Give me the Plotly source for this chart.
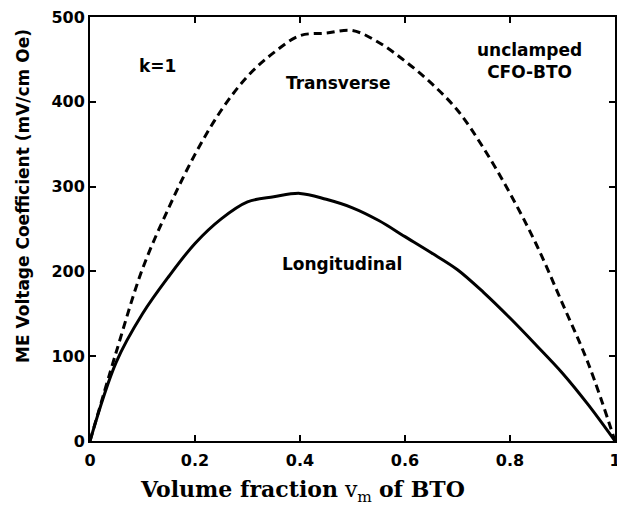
import plotly.graph_objects as go

# volume fraction of BTO
vm = [0, 0.05, 0.1, 0.15, 0.2, 0.25, 0.3, 0.35, 0.4, 0.45, 0.5,
      0.55, 0.6, 0.65, 0.7, 0.75, 0.8, 0.85, 0.9, 0.95, 1.0]
# ME voltage coefficient (mV/cm Oe)
transverse = [0, 105, 203, 275, 338, 390, 430, 458, 478, 481, 484,
              470, 448, 422, 390, 345, 292, 232, 162, 90, 0]
longitudinal = [0, 93, 150, 194, 233, 262, 282, 288, 292, 285, 275,
                260, 241, 222, 202, 175, 145, 113, 80, 42, 0]

fig = go.Figure()
fig.add_trace(go.Scatter(x=vm, y=transverse, mode='lines', name='Transverse',
                         line=dict(color='black', width=3, dash='8px,5px', shape='spline')))
fig.add_trace(go.Scatter(x=vm, y=longitudinal, mode='lines', name='Longitudinal',
                         line=dict(color='black', width=3, shape='spline')))

lab_font = dict(family='DejaVu Sans', size=17, color='black')
notes = [
    (0.128, 442, '<b>k=1</b>'),
    (0.472, 422, '<b>Transverse</b>'),
    (0.838, 448, '<b>unclamped<br>CFO-BTO</b>'),
    (0.48, 209, '<b>Longitudinal</b>'),
]
for x, y, t in notes:
    fig.add_annotation(x=x, y=y, text=t, showarrow=False, font=lab_font)

# axis titles as annotations (they sit off-centre in the original)
fig.add_annotation(xref='paper', yref='y', x=0, y=289, xshift=-67, textangle=-90,
                   xanchor='center', yanchor='middle',
                   text='<b>ME Voltage Coefficient (mV/cm Oe)</b>', showarrow=False,
                   font=dict(family='DejaVu Sans', size=17, color='black'))
fig.add_annotation(xref='x', yref='paper', x=0.405, y=0, yshift=-50,
                   xanchor='center', yanchor='middle',
                   text='<b>Volume fraction</b> v<sub>m</sub> <b>of BTO</b>', showarrow=False,
                   font=dict(family='DejaVu Serif', size=22, color='black'))

axis_common = dict(showline=True, linecolor='black', linewidth=2, mirror='ticks',
                   ticks='inside', ticklen=6, tickwidth=2, tickcolor='black',
                   showgrid=False, zeroline=False, automargin=False,
                   ticklabeloverflow='allow',
                   tickfont=dict(family='DejaVu Sans', size=16, color='black'))

fig.update_xaxes(range=[0, 1], tickvals=[0, 0.2, 0.4, 0.6, 0.8, 1],
                 ticktext=['<b>0</b>', '<b>0.2</b>', '<b>0.4</b>', '<b>0.6</b>', '<b>0.8</b>', '<b>1</b>'],
                 ticklabelstandoff=4, **axis_common)
fig.update_yaxes(range=[0, 500], tickvals=[0, 100, 200, 300, 400, 500],
                 ticktext=['<b>0</b>', '<b>100</b>', '<b>200</b>', '<b>300</b>', '<b>400</b>', '<b>500</b>'],
                 **axis_common)

fig.update_layout(width=625, height=505, showlegend=False,
                  plot_bgcolor='white', paper_bgcolor='white',
                  margin=dict(l=82, r=18, t=9, b=72))

fig.write_html("out.html")
